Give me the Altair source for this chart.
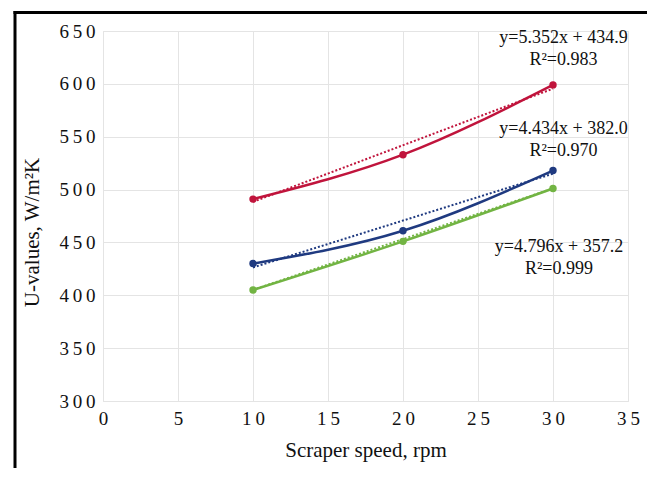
import altair as alt
import pandas as pd

# ---- data ----
speeds = [10, 20, 30]
series_names = ["red", "blue", "green"]
u_red = [491, 533, 599]
u_blue = [430, 461, 518]
u_green = [405, 451, 501]
colors = ["#C0143C", "#1F3A80", "#72B443"]

slopes = [5.352, 4.434, 4.796]
intercepts = [434.9, 382.0, 357.2]
r2 = ["0.983", "0.970", "0.999"]
label_x = [30.7, 30.7, 30.4]
label_y = [643, 557, 446]

x_ticks = [0, 5, 10, 15, 20, 25, 30, 35]
y_ticks = [300, 350, 400, 450, 500, 550, 600, 650]

FONT = "Liberation Serif"
W, H = 525, 370

rows = []
for name, vals in zip(series_names, [u_red, u_blue, u_green]):
    for s, v in zip(speeds, vals):
        rows.append({"series": name, "speed": s, "u": v})
df = pd.DataFrame(rows)

trows = []
for name, m, b in zip(series_names, slopes, intercepts):
    for s in (speeds[0], speeds[-1]):
        trows.append({"series": name, "speed": s, "u": m * s + b})
tdf = pd.DataFrame(trows)

ldf = pd.DataFrame({
    "series": series_names,
    "lx": label_x,
    "ly": label_y,
    "txt": [f"y={m:.3f}x + {b:.1f}\nR\u00b2={r}" for m, b, r in zip(slopes, intercepts, r2)],
})

color = alt.Color("series:N", scale=alt.Scale(domain=series_names, range=colors), legend=None)

xs = alt.X("speed:Q", scale=alt.Scale(domain=[0, 35], nice=False),
           axis=alt.Axis(values=x_ticks, title="Scraper speed, rpm", grid=True,
                         gridColor="#e4e4e4", domain=False, ticks=False,
                         labelFlush=False,
                         labelFont=FONT, labelFontSize=19, labelColor="#111",
                         labelExpr="join(split(datum.label, ''), '\u2009')",
                         labelPadding=8, titleFont=FONT, titleFontSize=21,
                         titleFontWeight="normal", titleColor="#111", titlePadding=11))
ys = alt.Y("u:Q", scale=alt.Scale(domain=[300, 650], nice=False),
           axis=alt.Axis(values=y_ticks, title="U-values, W/m\u00b2K", grid=True,
                         gridColor="#e4e4e4", domain=False, ticks=False,
                         labelFlush=False,
                         labelFont=FONT, labelFontSize=19, labelColor="#111",
                         labelExpr="join(split(datum.label, ''), '\u2009')",
                         labelPadding=8, titleFont=FONT, titleFontSize=21,
                         titleFontWeight="normal", titleColor="#111",
                         titleX=-71, titleY=201, titleBaseline="middle"))

lines = alt.Chart(df).mark_line(interpolate="monotone", strokeWidth=2.5).encode(
    x=xs, y=ys, color=color, detail="series:N")
points = alt.Chart(df).mark_circle(size=55, opacity=1).encode(
    x="speed:Q", y="u:Q", color=color)
trend = alt.Chart(tdf).mark_line(strokeDash=[2, 2], strokeWidth=2).encode(
    x="speed:Q", y="u:Q", color=color, detail="series:N")
labels = alt.Chart(ldf).mark_text(font=FONT, fontSize=18, lineBreak="\n",
                                  lineHeight=22, color="#111", align="center",
                                  baseline="middle").encode(
    x="lx:Q", y="ly:Q", text="txt:N")

frame_df = pd.DataFrame({"k": [0]})
frame_top = alt.Chart(frame_df).mark_rule(color="black", strokeWidth=3).encode(
    x=alt.value(-89.5), x2=alt.value(544), y=alt.value(-18.5))
frame_left = alt.Chart(frame_df).mark_rule(color="black", strokeWidth=3).encode(
    x=alt.value(-88), y=alt.value(-20), y2=alt.value(437))

chart = alt.layer(lines, trend, points, labels, frame_top, frame_left).properties(
    width=W, height=H,
    padding={"left": 4, "top": 1, "right": 0, "bottom": 0},
).configure_view(stroke=None).configure(background="white")

chart.save("out.html", embed_options={"renderer": "svg", "actions": False})
